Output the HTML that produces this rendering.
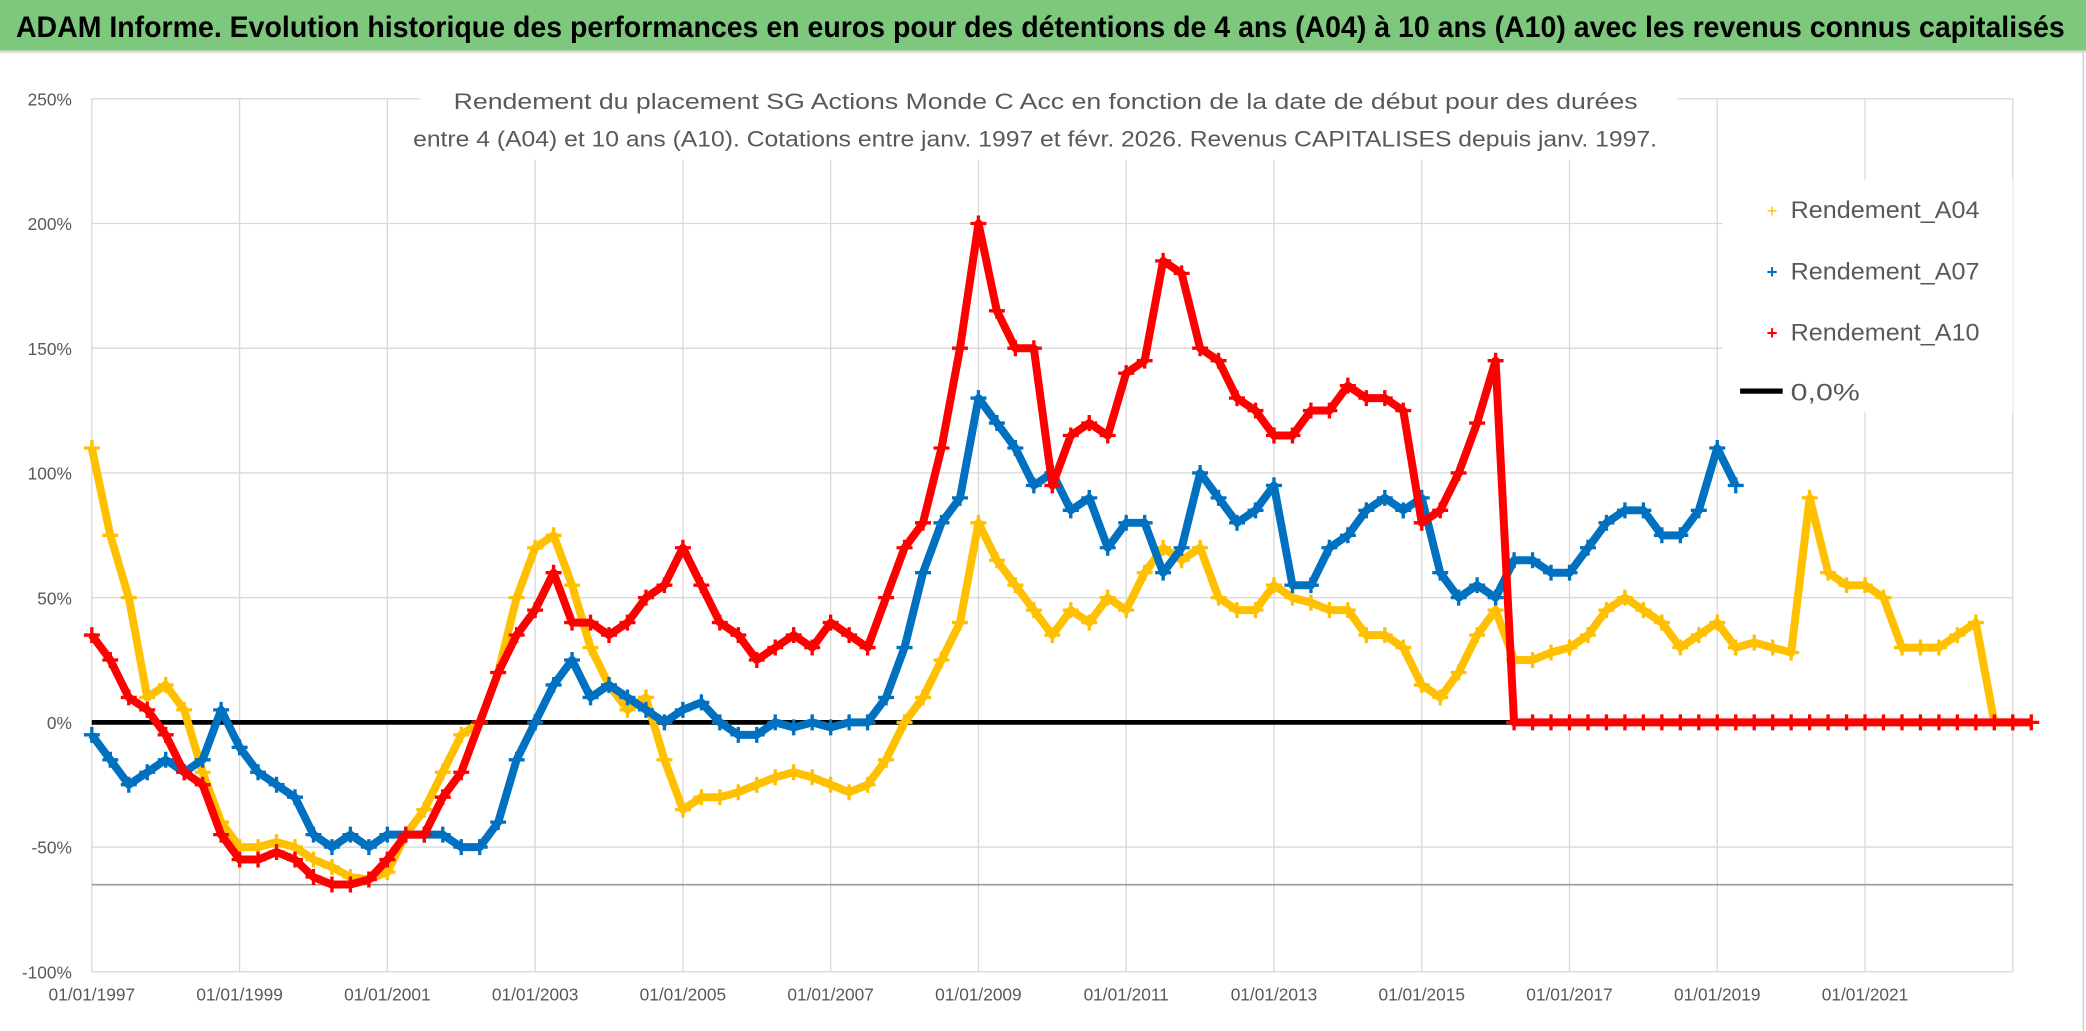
<!DOCTYPE html>
<html><head><meta charset="utf-8">
<style>
html,body{margin:0;padding:0;background:#fff;overflow:hidden}
svg{display:block;font-family:"Liberation Sans",sans-serif}
</style></head>
<body>
<svg id="chart" width="2086" height="1031" viewBox="0 0 1568 775" xmlns="http://www.w3.org/2000/svg">
<rect x="0" y="0" width="1568" height="775" fill="#fff"/>
<rect x="0" y="0" width="1568" height="38" fill="#7dc87c"/>
<text x="12" y="28" font-size="22" font-weight="bold" fill="#000" textLength="1540" lengthAdjust="spacingAndGlyphs">ADAM Informe. Evolution historique des performances en euros pour des détentions de 4 ans (A04) à 10 ans (A10) avec les revenus connus capitalisés</text>
<rect x="0" y="38" width="1568" height="2" fill="#ddd"/>
<line x1="1566" y1="40" x2="1566" y2="775" stroke="#ccc" stroke-width="1"/>
<g id="grid"></g>
<g id="yticks"></g>
<g id="xticks"></g>
<line x1="69" y1="665" x2="1513" y2="665" stroke="#999" stroke-width="1.2"/>
<g id="series"></g>
<rect x="316" y="58" width="945" height="62" fill="#fff"/>
<text x="786" y="82" font-size="17" fill="#595959" text-anchor="middle" textLength="890" lengthAdjust="spacingAndGlyphs">Rendement du placement SG Actions Monde C Acc en fonction de la date de début pour des durées</text>
<text x="778" y="110" font-size="17" fill="#595959" text-anchor="middle" textLength="935" lengthAdjust="spacingAndGlyphs">entre 4 (A04) et 10 ans (A10). Cotations entre janv. 1997 et févr. 2026. Revenus CAPITALISES depuis janv. 1997.</text>
<g>
<rect x="1295" y="135" width="218" height="175" fill="#fff"/>
<g><text x="1332" y="163" font-size="14" fill="#ffc000" text-anchor="middle">+</text><text x="1346" y="164" font-size="18" fill="#595959" textLength="142" lengthAdjust="spacingAndGlyphs">Rendement_A04</text></g>
<g><text x="1332" y="209" font-size="14" fill="#0070c0" font-weight="bold" text-anchor="middle">+</text><text x="1346" y="210" font-size="18" fill="#595959" textLength="142" lengthAdjust="spacingAndGlyphs">Rendement_A07</text></g>
<g><text x="1332" y="255" font-size="14" fill="#ff0000" font-weight="bold" text-anchor="middle">+</text><text x="1346" y="256" font-size="18" fill="#595959" textLength="142" lengthAdjust="spacingAndGlyphs">Rendement_A10</text></g>
<g><line x1="1308" y1="294" x2="1340" y2="294" stroke="#000" stroke-width="4"/><text x="1346" y="301" font-size="18" fill="#595959" textLength="52" lengthAdjust="spacingAndGlyphs">0,0%</text></g>
</g>
</svg>
<script>
const startYear = 1997;
const stepYears = 0.25;
const yTickValues = [250, 200, 150, 100, 50, 0, -50, -100];
const yTickLabels = ["250%", "200%", "150%", "100%", "50%", "0%", "-50%", "-100%"];
const xTickYears = [1997, 1999, 2001, 2003, 2005, 2007, 2009, 2011, 2013, 2015, 2017, 2019, 2021];
const xTickLabels = ["01/01/1997","01/01/1999","01/01/2001","01/01/2003","01/01/2005","01/01/2007","01/01/2009","01/01/2011","01/01/2013","01/01/2015","01/01/2017","01/01/2019","01/01/2021"];
const a04 = [110,75,50,10,15,5,-20,-40,-50,-50,-48,-50,-55,-58,-62,-63,-60,-45,-35,-20,-5,0,20,50,70,75,55,30,15,5,10,-15,-35,-30,-30,-28,-25,-22,-20,-22,-25,-28,-25,-15,0,10,25,40,80,65,55,45,35,45,40,50,45,60,70,65,70,50,45,45,55,50,48,45,45,35,35,30,15,10,20,35,45,25,25,28,30,35,45,50,45,40,30,35,40,30,32,30,28,90,60,55,55,50,30,30,30,35,40,0,0];
const a07 = [-5,-15,-25,-20,-15,-20,-15,5,-10,-20,-25,-30,-45,-50,-45,-50,-45,-45,-45,-45,-50,-50,-40,-15,0,15,25,10,15,10,5,0,5,8,0,-5,-5,0,-2,0,-2,0,0,10,30,60,80,90,130,120,110,95,100,85,90,70,80,80,60,70,100,90,80,85,95,55,55,70,75,85,90,85,90,60,50,55,50,65,65,60,60,70,80,85,85,75,75,85,110,95];
const a10 = [35,25,10,5,-5,-20,-25,-45,-55,-55,-52,-55,-62,-65,-65,-63,-55,-45,-45,-30,-20,0,20,35,45,60,40,40,35,40,50,55,70,55,40,35,25,30,35,30,40,35,30,50,70,80,110,150,200,165,150,150,95,115,120,115,140,145,185,180,150,145,130,125,115,115,125,125,135,130,130,125,80,85,100,120,145,0,0,0,0,0,0,0,0,0,0,0,0,0,0,0,0,0,0,0,0,0,0,0,0,0,0,0,0,0];

const NS = "http://www.w3.org/2000/svg";
const X0 = 69, X1 = 1513, YEAR0 = 1997, YEAR1 = 2023;
const xScale = yr => X0 + (yr - YEAR0) / (YEAR1 - YEAR0) * (X1 - X0);
const yScale = v => 543 - v * 1.875;
function mk(tag, attrs, parent) { const e = document.createElementNS(NS, tag); for (const k in attrs) e.setAttribute(k, attrs[k]); parent.appendChild(e); return e; }

const grid = document.getElementById('grid');
for (let yr = 1997; yr <= 2023; yr += 2) {
  const gx = xScale(yr);
  const l = mk('line', {x1: gx, y1: yScale(250), x2: gx, y2: yScale(-100), stroke: '#d9d9d9', 'stroke-width': 1}, grid);
  
  
}
const yt = document.getElementById('yticks');
yTickValues.forEach((v, i) => {
  const l = mk('line', {x1: X0, y1: yScale(v), x2: X1, y2: yScale(v), stroke: '#d9d9d9', 'stroke-width': 1}, grid);
  
  
  const t = mk('text', {x: 54, y: yScale(v) + 5, 'font-size': 13, fill: '#595959', 'text-anchor': 'end'}, yt);
  t.textContent = yTickLabels[i];
  
  
});
const xt = document.getElementById('xticks');
xTickYears.forEach((yr, i) => {
  const t = mk('text', {x: xScale(yr), y: 752, 'font-size': 13, fill: '#595959', 'text-anchor': 'middle'}, xt);
  t.textContent = xTickLabels[i];
  
  
});

const sg = document.getElementById('series');
const zl = mk('line', {x1: X0, y1: yScale(0), x2: X1, y2: yScale(0), stroke: '#000', 'stroke-width': 3.5}, sg);



function drawSeries(vals, color, name) {
  const g = mk('g', {}, sg);
  
  
  const pts = vals.map((v, i) => xScale(startYear + i * stepYears).toFixed(1) + ',' + yScale(v).toFixed(1)).join(' ');
  const pl = mk('polyline', {points: pts, fill: 'none', stroke: color, 'stroke-width': 6, 'stroke-linejoin': 'round'}, g);
  
  
  vals.forEach((v, i) => {
    const cx = xScale(startYear + i * stepYears), cy = yScale(v);
    const p = mk('path', {d: `M${cx-6},${cy}H${cx+6}M${cx},${cy-6}V${cy+6}`, stroke: color, 'stroke-width': 2.5}, g);
    
    
  });
}
drawSeries(a04, '#ffc000', 'series-a04');
drawSeries(a07, '#0070c0', 'series-a07');
drawSeries(a10, '#ff0000', 'series-a10');
</script>
</body></html>
